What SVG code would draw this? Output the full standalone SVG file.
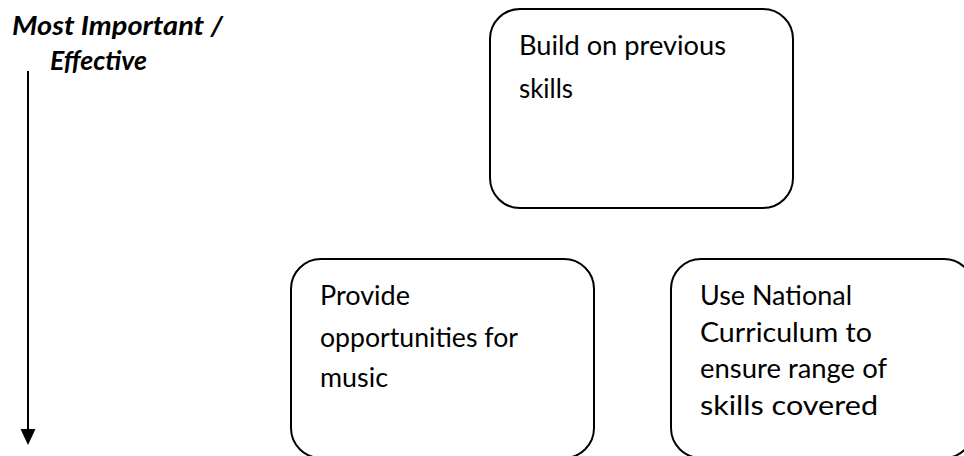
<svg xmlns="http://www.w3.org/2000/svg" width="964" height="456" viewBox="0 0 964 456">
<style>
.box{fill:#fff;stroke:#000;stroke-width:2}
.t{font-family:Lato,"Liberation Sans",sans-serif;font-size:26px;fill:#000}
.h{font-family:Lato,"Liberation Sans",sans-serif;font-size:27px;font-weight:bold;font-style:italic;fill:#000}
</style>
<rect width="964" height="456" fill="#fff"/>
<g id="label">
<text class="h" x="12" y="35" textLength="211" lengthAdjust="spacingAndGlyphs">Most Important /</text>
<text class="h" x="50" y="70" textLength="97" lengthAdjust="spacingAndGlyphs">Effective</text>
</g>
<g id="connectors">
<line x1="28" y1="71" x2="28" y2="430" stroke="#000" stroke-width="2"/>
<path d="M20.5,429 L35.5,429 L28,445 Z" fill="#000"/>
</g>
<g id="node1">
<rect class="box" x="490" y="9" width="303" height="199" rx="30" ry="30"/>
<text class="t" x="519" y="55" textLength="207" lengthAdjust="spacingAndGlyphs">Build on previous</text>
<text class="t" x="519" y="98" textLength="54" lengthAdjust="spacingAndGlyphs">skills</text>
</g>
<g id="node2">
<rect class="box" x="291" y="259" width="303" height="199" rx="30" ry="30"/>
<text class="t" x="320" y="305" textLength="90" lengthAdjust="spacingAndGlyphs">Provide</text>
<text class="t" x="320" y="347" textLength="198" lengthAdjust="spacingAndGlyphs">opportunities for</text>
<text class="t" x="320" y="387" textLength="68" lengthAdjust="spacingAndGlyphs">music</text>
</g>
<g id="node3">
<rect class="box" x="671" y="259" width="303" height="199" rx="30" ry="30"/>
<text class="t" x="700" y="305" textLength="152" lengthAdjust="spacingAndGlyphs">Use National</text>
<text class="t" x="700" y="342" textLength="172" lengthAdjust="spacingAndGlyphs">Curriculum to</text>
<text class="t" x="700" y="378" textLength="187" lengthAdjust="spacingAndGlyphs">ensure range of</text>
<text class="t" x="700" y="415" textLength="178" lengthAdjust="spacingAndGlyphs">skills covered</text>
</g>
</svg>
